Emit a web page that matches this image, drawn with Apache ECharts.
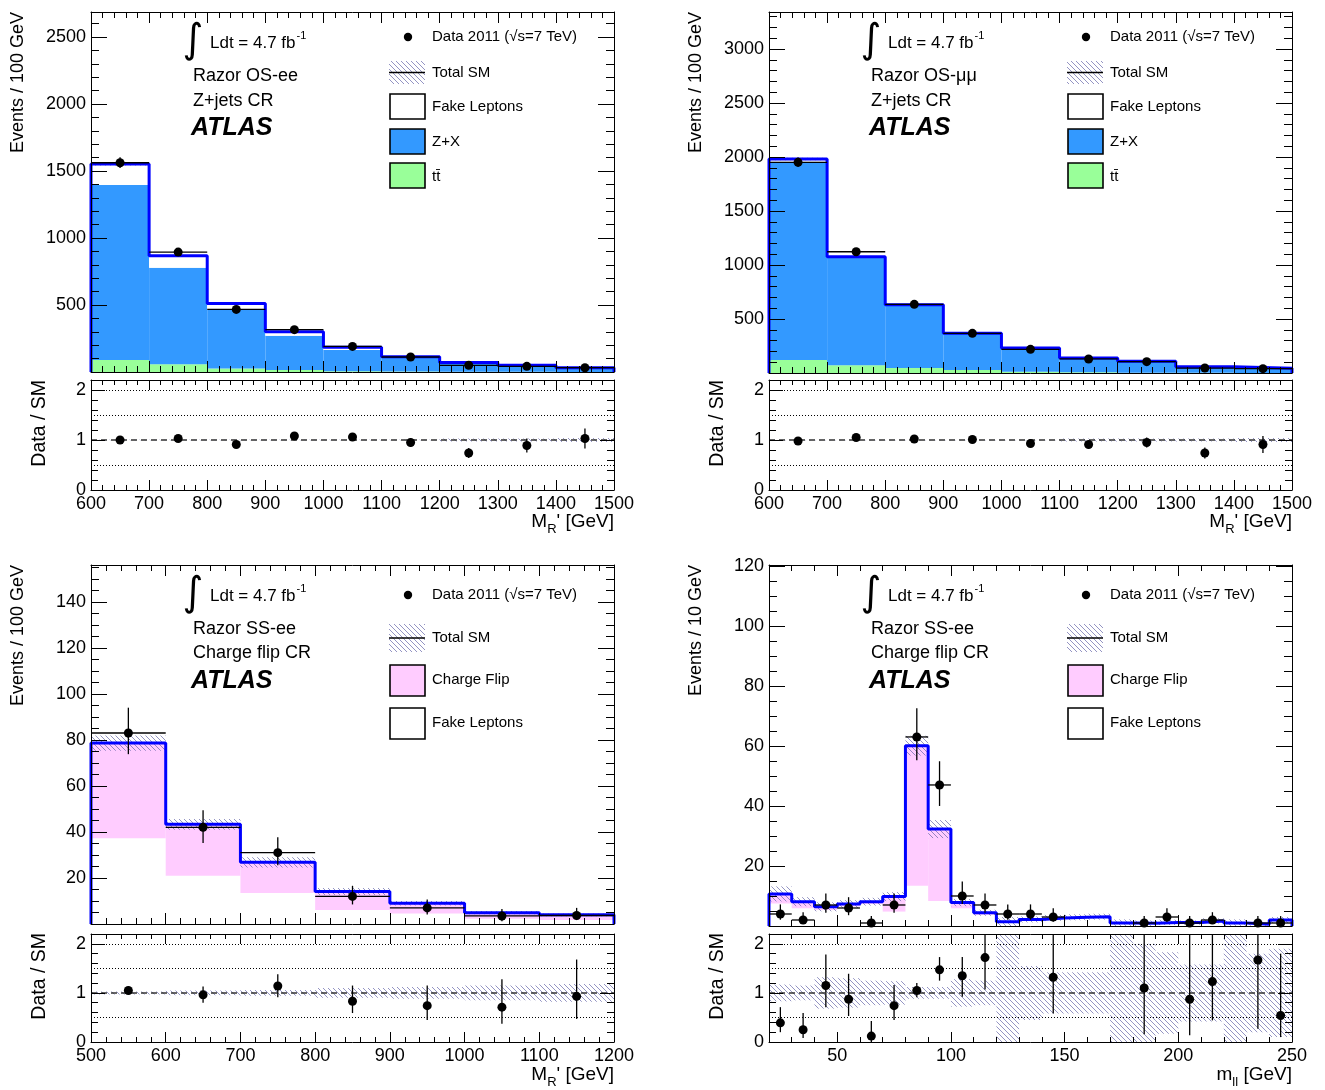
<!DOCTYPE html>
<html><head><meta charset="utf-8">
<script src="https://cdn.jsdelivr.net/npm/echarts@6.0.0/dist/echarts.min.js"></script>
<style>html,body{margin:0;padding:0;background:#fff}#c{width:1325px;height:1090px}</style>
</head><body><div id="c"></div>
<script>
// ===================== DATA =====================
// bin edges / tick labels
const osEdges = [600, 700, 800, 900, 1000, 1100, 1200, 1300, 1400, 1500];
const osXTicks = [600, 700, 800, 900, 1000, 1100, 1200, 1300, 1400, 1500];
const ssEdges = [500, 600, 700, 800, 900, 1000, 1100, 1200];
const ssXTicks = [500, 600, 700, 800, 900, 1000, 1100, 1200];
const mllEdges = [20, 30, 40, 50, 60, 70, 80, 90, 100, 110, 120, 130, 140, 150, 160, 170, 180, 190, 200, 210, 220, 230, 240, 250];
const mllXTicks = [50, 100, 150, 200, 250];
const eeYTicks = [500, 1000, 1500, 2000, 2500];
const mmYTicks = [500, 1000, 1500, 2000, 2500, 3000];
const ssYTicks = [20, 40, 60, 80, 100, 120, 140];
const mllYTicks = [20, 40, 60, 80, 100, 120];
const ratioYTicks = [0, 1, 2];

// Panel 1: Razor OS-ee, Z+jets CR
const eeTtbar = [90, 57, 27, 15, 5, 3, 1, 1, 0.5];
const eeZX = [1305, 721, 435, 256, 159, 107, 67, 47, 30.5];
const eeFake = [157, 90, 50, 30, 20, 4, 2, 2, 1];
const eeData = [1562, 895, 467, 316, 191, 112, 50, 42, 32];
const eeDataErr = [40, 30, 22, 18, 14, 11, 7, 6.5, 5.7];
const eeBand = [10, 6, 4, 3, 2, 1.5, 2, 1.5, 1.2];
const eeRatio = [1.0, 1.03, 0.91, 1.08, 1.06, 0.95, 0.74, 0.89, 1.03];
const eeRatioErr = [0.03, 0.04, 0.05, 0.06, 0.07, 0.09, 0.1, 0.14, 0.2];
const eeRatioBand = [0.005, 0.005, 0.005, 0.005, 0.005, 0.005, 0.03, 0.03, 0.04];

// Panel 2: Razor OS-mumu, Z+jets CR
const mmTtbar = [120, 71, 46, 28, 12, 6, 3, 2, 1];
const mmZX = [1837, 1000, 583, 337, 217, 132, 104, 55, 41.5];
const mmFake = [25, 6, 4, 2, 2, 1, 1, 1, 0.5];
const mmData = [1951, 1123, 636, 367, 219, 130, 105, 46, 40];
const mmDataErr = [44, 33, 25, 19, 15, 11, 10, 7, 6.3];
const mmBand = [12, 7, 4, 3, 2, 2, 3, 2, 1.5];
const mmRatio = [0.98, 1.05, 1.02, 1.01, 0.93, 0.91, 0.95, 0.74, 0.91];
const mmRatioErr = [0.03, 0.04, 0.05, 0.06, 0.07, 0.08, 0.1, 0.11, 0.17];
const mmRatioBand = [0.005, 0.005, 0.005, 0.005, 0.005, 0.03, 0.03, 0.03, 0.04];

// Panel 3: Razor SS-ee, Charge flip CR (M_R')
const ssFake = [37.3, 21, 13.5, 6.1, 4.6, 2.3, 1.7];
const ssCF = [41.3, 22.3, 13.3, 8.0, 4.4, 2.6, 2.3];
const ssData = [83, 42, 31, 12, 7, 3.5, 3.7];
const ssDataErrHi = [11, 7.4, 6.7, 4.6, 3.6, 3, 3.3];
const ssDataErrLo = [9.2, 6.8, 5.5, 3.5, 2.9, 2.3, 2];
const ssBand = [3.3, 2.3, 2.2, 1.5, 1.0, 0.7, 0.6];
const ssRatio = [1.05, 0.96, 1.14, 0.83, 0.74, 0.71, 0.93];
const ssRatioErrHi = [0.08, 0.17, 0.24, 0.32, 0.41, 0.57, 0.75];
const ssRatioErrLo = [0.08, 0.16, 0.23, 0.24, 0.29, 0.34, 0.46];
const ssRatioBand = [0.03, 0.05, 0.06, 0.1, 0.12, 0.15, 0.18];

// Panel 4: Razor SS-ee, Charge flip CR (m_ll)
const mllFake = [7.5, 5.9, 5.3, 6.5, 7.3, 4.8, 13.4, 8.3, 5.9, 3.7, 1.3, 2.1, 2.6, 2.8, 3.0, 0.95, 0.9, 1.15, 1.1, 1.65, 0.95, 0.55, 1.9];
const mllCF = [3.2, 2.2, 1.1, 0.8, 0.8, 5.0, 46.7, 24.0, 1.9, 0.7, 0.1, 0.1, 0.1, 0.1, 0.1, 0.05, 0.05, 0.05, 0.05, 0.05, 0.05, 0.05, 0.1];
const mllData = [4, 2, 7, 6, 1, 7, 63, 47, 10, 7, 4, 4, 3, null, null, null, 1, 3, 1, 2, null, 1, 1];
const mllDataErrHi = [3.2, 2.6, 3.8, 3.6, 2.3, 3.8, 9.6, 7.9, 4.8, 3.8, 3.2, 3.2, 2.9, null, null, null, 2.3, 2.9, 2.3, 2.6, null, 2.3, 2.3];
const mllDataErrLo = [1.9, 1.3, 2.6, 2.4, 0.8, 2.6, 7.8, 7.0, 2.7, 2.6, 1.9, 1.9, 1.6, null, null, null, 0.8, 1.6, 0.8, 1.3, null, 0.8, 0.8];
const mllBand = [2.5, 1.5, 1.5, 1.3, 1.3, 1.5, 3.3, 3.0, 1.2, 1.0, 1.6, 1.0, 1.0, 1.0, 1.0, 1.2, 0.9, 0.9, 0.7, 0.9, 1.2, 0.5, 1.0];
const mllRatio = [0.39, 0.25, 1.15, 0.87, 0.12, 0.74, 1.05, 1.47, 1.35, 1.72, null, null, 1.32, null, null, null, 1.1, null, 0.87, 1.23, null, 1.67, 0.54];
const mllRatioErrHi = [0.32, 0.34, 0.63, 0.52, 0.31, 0.42, 0.15, 0.26, 0.38, 0.8, null, null, 0.9, null, null, null, 1.2, null, 1.4, 1.0, null, 0.6, 1.26];
const mllRatioErrLo = [0.19, 0.17, 0.44, 0.34, 0.12, 0.29, 0.14, 0.22, 0.43, 0.65, null, null, 0.74, null, null, null, 0.94, null, 0.73, 0.79, null, 1.4, 0.44];
const mllRatioBand = [0.17, 0.15, 0.32, 0.3, 0.25, 0.24, 0.12, 0.12, 0.28, 0.25, 1.2, 0.55, 0.42, 0.42, 0.42, 1.2, 1.0, 0.83, 0.58, 0.58, 1.2, 0.8, 0.9];

// ===================== STYLE / HELPERS =====================
const FONT = '"Liberation Sans", Helvetica, Arial, sans-serif';
const C_TT = '#99ff99', C_ZX = '#3399ff', C_FAKE = '#ffffff', C_CF = '#ffccff', C_TOT = '#0000ff';

const hatchCanvas = (() => {
  const S = 5;
  const c = document.createElement('canvas'); c.width = S; c.height = S;
  const g = c.getContext('2d'); g.strokeStyle = 'rgba(95,95,165,0.75)'; g.lineWidth = 0.9;
  g.beginPath(); g.moveTo(0, 0); g.lineTo(S, S); g.moveTo(-1, S - 1); g.lineTo(1, S + 1); g.moveTo(S - 1, -1); g.lineTo(S + 1, 1); g.stroke();
  return c;
})();
const HATCH = { image: hatchCanvas, repeat: 'repeat' };

const mctx = document.createElement('canvas').getContext('2d');
function tw(text, size, weight, style) {
  mctx.font = `${style || 'normal'} ${weight || 'normal'} ${size}px "Liberation Sans"`;
  return mctx.measureText(text).width;
}

const grids = [], xAxes = [], yAxes = [], series = [], graphics = [];
const LB = { color: '#000', width: 1 };

function addAxes(list, g, min, max, minorStep, majors, posA, posB, labelSide, majorLen, minorLen) {
  const first = list.length;
  [posA, posB].forEach(pos => {
    list.push({
      type: 'value', gridIndex: g, min, max, position: pos, interval: minorStep, z: 10, silent: true,
      splitLine: { show: false },
      axisLine: { show: true, onZero: false, lineStyle: LB },
      axisTick: { show: true, inside: true, length: minorLen, lineStyle: LB },
      axisLabel: { show: false }
    });
    list.push({
      type: 'value', gridIndex: g, min, max, position: pos, z: 10, silent: true,
      splitLine: { show: false },
      axisLine: { show: false, onZero: false },
      axisTick: { show: true, inside: true, length: majorLen, customValues: majors, lineStyle: LB },
      axisLabel: {
        show: pos === labelSide, customValues: majors, formatter: v => String(v),
        color: '#000', fontFamily: FONT, fontSize: 18, margin: 5, showMinLabel: true, showMaxLabel: true
      }
    });
  });
  return first;
}

function rectSeries(xi, yi, data, style, z) {
  return {
    type: 'custom', xAxisIndex: xi, yAxisIndex: yi, z, clip: true, silent: true, data,
    renderItem: (params, api) => {
      const a = api.coord([api.value(0), api.value(2)]);
      const b = api.coord([api.value(1), api.value(3)]);
      return { type: 'rect', shape: { x: a[0], y: b[1], width: b[0] - a[0], height: a[1] - b[1] }, style: Object.assign({}, style) };
    }
  };
}

function errSeries(xi, yi, items, showX, z) {
  return {
    type: 'custom', xAxisIndex: xi, yAxisIndex: yi, z, clip: true, silent: true, data: items,
    renderItem: (params, api) => {
      const xc = api.value(0), v = api.value(1), lo = api.value(2), hi = api.value(3);
      const p1 = api.coord([xc, v - lo]), p2 = api.coord([xc, v + hi]);
      const ch = [{ type: 'line', shape: { x1: p1[0], y1: p1[1], x2: p2[0], y2: p2[1] }, style: { stroke: '#000', lineWidth: 1.3 } }];
      if (showX) {
        const a = api.coord([api.value(4), v]), b = api.coord([api.value(5), v]);
        ch.push({ type: 'line', shape: { x1: a[0], y1: a[1], x2: b[0], y2: b[1] }, style: { stroke: '#000', lineWidth: 1.3 } });
      }
      return { type: 'group', children: ch };
    }
  };
}

function panel(P) {
  const gM = grids.length; grids.push({ left: P.left, top: P.mainTop, width: P.width, height: P.mainH });
  const gR = grids.length; grids.push({ left: P.left, top: P.ratioTop, width: P.width, height: P.ratioH });
  const xM = addAxes(xAxes, gM, P.xmin, P.xmax, P.xMinor, P.xTicks, 'bottom', 'top', null, 11, 6);
  const yM = addAxes(yAxes, gM, 0, P.yMax, P.yMinor, P.yTicks, 'left', 'right', 'left', 16, 8);
  const xR = addAxes(xAxes, gR, P.xmin, P.xmax, P.xMinor, P.xTicks, 'bottom', 'top', 'bottom', 10, 5);
  const yR = addAxes(yAxes, gR, 0, 2.2, 0.2, ratioYTicks, 'left', 'right', 'left', 14, 7);
  const E = P.edges, n = E.length - 1;
  const centers = E.slice(0, n).map((e, i) => (e + E[i + 1]) / 2);

  // stacked histogram fills
  let base = new Array(n).fill(0);
  P.stack.forEach(comp => {
    const d = comp.v.map((v, i) => [E[i], E[i + 1], base[i], base[i] + v]);
    series.push(rectSeries(xM, yM, d, { fill: comp.c }, 2));
    base = base.map((b, i) => b + comp.v[i]);
  });
  const total = base;
  // uncertainty hatch on total
  series.push(rectSeries(xM, yM, total.map((t, i) => [E[i], E[i + 1], t - P.band[i], t + P.band[i]]), { fill: HATCH }, 3));
  // total outline
  const pts = [[E[0], 0]];
  total.forEach((t, i) => pts.push([E[i], t]));
  pts.push([E[n], total[n - 1]]); pts.push([E[n], 0]);
  series.push({ type: 'line', xAxisIndex: xM, yAxisIndex: yM, step: 'end', data: pts, showSymbol: false, symbol: 'none', silent: true, z: 4, lineStyle: { color: C_TOT, width: 3 } });
  // data
  const di = [];
  P.data.forEach((v, i) => { if (v !== null) di.push([centers[i], v, P.errLo[i], P.errHi[i], E[i], E[i + 1]]); });
  series.push(errSeries(xM, yM, di, true, 5));
  series.push({ type: 'scatter', xAxisIndex: xM, yAxisIndex: yM, data: di.map(d => [d[0], d[1]]), symbol: 'circle', symbolSize: 9, itemStyle: { color: '#000', opacity: 1 }, silent: true, z: 6 });

  // ratio pad
  series.push(rectSeries(xR, yR, P.rBand.map((b, i) => [E[i], E[i + 1], 1 - b, 1 + b]), { fill: HATCH }, 3));
  series.push({
    type: 'line', xAxisIndex: xR, yAxisIndex: yR, data: [[E[0], 1]], symbol: 'none', showSymbol: false, silent: true, z: 4,
    lineStyle: { opacity: 0 },
    markLine: {
      silent: true, symbol: ['none', 'none'], label: { show: false }, animation: false,
      data: [
        { yAxis: 1, lineStyle: { type: [6, 4], color: '#333', width: 1.5 } },
        { yAxis: 0.5, lineStyle: { type: [1, 2], color: '#000', width: 1 } },
        { yAxis: 1.5, lineStyle: { type: [1, 2], color: '#000', width: 1 } },
        { yAxis: 2, lineStyle: { type: [1, 2], color: '#000', width: 1 } }
      ]
    }
  });
  const ri = [];
  P.ratio.forEach((v, i) => { if (v !== null) ri.push([centers[i], v, P.rErrLo[i], P.rErrHi[i], E[i], E[i + 1]]); });
  series.push(errSeries(xR, yR, ri, false, 5));
  series.push({ type: 'scatter', xAxisIndex: xR, yAxisIndex: yR, data: ri.map(d => [d[0], d[1]]), symbol: 'circle', symbolSize: 9, itemStyle: { color: '#000', opacity: 1 }, silent: true, z: 6 });
}

panel({ left: 91, width: 523, mainTop: 12, mainH: 360, ratioTop: 380, ratioH: 110, xmin: 600, xmax: 1500, xMinor: 20, xTicks: osXTicks,
  yMax: 2687, yMinor: 100, yTicks: eeYTicks, edges: osEdges,
  stack: [{ v: eeTtbar, c: C_TT }, { v: eeZX, c: C_ZX }, { v: eeFake, c: C_FAKE }], band: eeBand,
  data: eeData, errLo: eeDataErr, errHi: eeDataErr, ratio: eeRatio, rErrLo: eeRatioErr, rErrHi: eeRatioErr, rBand: eeRatioBand });
panel({ left: 769, width: 523, mainTop: 12, mainH: 361, ratioTop: 380, ratioH: 110, xmin: 600, xmax: 1500, xMinor: 20, xTicks: osXTicks,
  yMax: 3343, yMinor: 100, yTicks: mmYTicks, edges: osEdges,
  stack: [{ v: mmTtbar, c: C_TT }, { v: mmZX, c: C_ZX }, { v: mmFake, c: C_FAKE }], band: mmBand,
  data: mmData, errLo: mmDataErr, errHi: mmDataErr, ratio: mmRatio, rErrLo: mmRatioErr, rErrHi: mmRatioErr, rBand: mmRatioBand });
panel({ left: 91, width: 523, mainTop: 565, mainH: 359, ratioTop: 934, ratioH: 108, xmin: 500, xmax: 1200, xMinor: 20, xTicks: ssXTicks,
  yMax: 156, yMinor: 5, yTicks: ssYTicks, edges: ssEdges,
  stack: [{ v: ssFake, c: C_FAKE }, { v: ssCF, c: C_CF }], band: ssBand,
  data: ssData, errLo: ssDataErrLo, errHi: ssDataErrHi, ratio: ssRatio, rErrLo: ssRatioErrLo, rErrHi: ssRatioErrHi, rBand: ssRatioBand });
panel({ left: 769, width: 523, mainTop: 565, mainH: 361, ratioTop: 934, ratioH: 108, xmin: 20, xmax: 250, xMinor: 10, xTicks: mllXTicks,
  yMax: 120.3, yMinor: 5, yTicks: mllYTicks, edges: mllEdges,
  stack: [{ v: mllFake, c: C_FAKE }, { v: mllCF, c: C_CF }], band: mllBand,
  data: mllData, errLo: mllDataErrLo, errHi: mllDataErrHi, ratio: mllRatio, rErrLo: mllRatioErrLo, rErrHi: mllRatioErrHi, rBand: mllRatioBand });

// ===================== TEXT / LEGENDS =====================
function txt(x, y, text, size, extra) {
  graphics.push({
    type: 'text', x, y, silent: true, z: 100,
    style: Object.assign({ text, fontSize: size, fontFamily: FONT, fill: '#000', align: 'left', verticalAlign: 'middle', textAlign: 'left', textVerticalAlign: 'middle' }, extra || {})
  });
}
function vtxt(x, y, text, size) {
  graphics.push({
    type: 'text', x, y, rotation: Math.PI / 2, silent: true, z: 100,
    style: { text, fontSize: size, fontFamily: FONT, fill: '#000', align: 'right', verticalAlign: 'middle', textAlign: 'right', textVerticalAlign: 'middle' }
  });
}
function box(x, y, w, h, fill) {
  graphics.push({ type: 'rect', silent: true, z: 100, shape: { x, y, width: w, height: h }, style: { fill, stroke: '#000', lineWidth: 1.6 } });
}
function hatchBox(x, y, w, h) {
  graphics.push({ type: 'rect', silent: true, z: 100, shape: { x, y, width: w, height: h }, style: { fill: HATCH, stroke: null } });
  graphics.push({ type: 'line', silent: true, z: 101, shape: { x1: x, y1: y + h / 2, x2: x + w, y2: y + h / 2 }, style: { stroke: '#000', lineWidth: 1.6 } });
}
function lumi(x, y) {
  graphics.push({ type: 'text', x: x - 3, y: y - 1, silent: true, z: 100, style: { text: '\u222B', fontSize: 40, fontFamily: '"DejaVu Sans"', fill: '#000', align: 'center', verticalAlign: 'middle', textAlign: 'center', textVerticalAlign: 'middle' } });
  const s = 'Ldt = 4.7 fb';
  txt(x + 14, y, s, 17);
  txt(x + 14 + tw(s, 17) + 1, y - 7, '-1', 11);
}
function xTitle(right, y, main, sub, rest) {
  const w3 = tw(rest, 19), w2 = tw(sub, 13), w1 = tw(main, 19);
  txt(right - w3, y, rest, 19);
  txt(right - w3 - w2, y + 7, sub, 13);
  txt(right - w3 - w2 - w1, y, main, 19);
}

[[0, 'Razor OS-ee'], [678, 'Razor OS-\u03BC\u03BC']].forEach(([dx, lab]) => {
  lumi(196 + dx, 43);
  txt(193 + dx, 76, lab, 18);
  txt(193 + dx, 101, 'Z+jets CR', 18);
  txt(191 + dx, 128, 'ATLAS', 25, { fontWeight: 'bold', fontStyle: 'italic' });
  graphics.push({ type: 'circle', silent: true, z: 100, shape: { cx: 408 + dx, cy: 37, r: 4.2 }, style: { fill: '#000' } });
  txt(432 + dx, 37, 'Data 2011 (\u221As=7 TeV)', 15);
  hatchBox(389 + dx, 61, 36, 23); txt(432 + dx, 73, 'Total SM', 15);
  box(390 + dx, 94, 35, 25, '#fff'); txt(432 + dx, 107, 'Fake Leptons', 15);
  box(390 + dx, 129, 35, 25, C_ZX); txt(432 + dx, 142, 'Z+X', 15);
  box(390 + dx, 163, 35, 25, C_TT); txt(432 + dx, 177, 'tt\u0304', 15);
  vtxt(18 + dx, 12, 'Events / 100 GeV', 18);
  vtxt(40 + dx, 380, 'Data / SM', 19.5);
  xTitle(614 + dx, 522, 'M', 'R', "' [GeV]");
});
[[0, 'Events / 100 GeV'], [678, 'Events / 10 GeV']].forEach(([dx, ytitle], k) => {
  lumi(196 + dx, 596);
  txt(193 + dx, 629, 'Razor SS-ee', 18);
  txt(193 + dx, 653, 'Charge flip CR', 18);
  txt(191 + dx, 681, 'ATLAS', 25, { fontWeight: 'bold', fontStyle: 'italic' });
  graphics.push({ type: 'circle', silent: true, z: 100, shape: { cx: 408 + dx, cy: 595, r: 4.2 }, style: { fill: '#000' } });
  txt(432 + dx, 595, 'Data 2011 (\u221As=7 TeV)', 15);
  hatchBox(389 + dx, 624, 36, 28); txt(432 + dx, 638, 'Total SM', 15);
  box(390 + dx, 665, 35, 31, C_CF); txt(432 + dx, 680, 'Charge Flip', 15);
  box(390 + dx, 708, 35, 31, '#fff'); txt(432 + dx, 723, 'Fake Leptons', 15);
  vtxt(18 + dx, 565, ytitle, 18);
  vtxt(40 + dx, 933, 'Data / SM', 19.5);
  if (k === 0) xTitle(614 + dx, 1075, 'M', 'R', "' [GeV]");
  else xTitle(1292, 1075, 'm', 'll', ' [GeV]');
});

const chart = echarts.init(document.getElementById('c'), null, { renderer: 'canvas' });
chart.setOption({
  animation: false,
  backgroundColor: '#fff',
  grid: grids, xAxis: xAxes, yAxis: yAxes, series,
  graphic: { elements: graphics }
});
</script>
</body></html>
